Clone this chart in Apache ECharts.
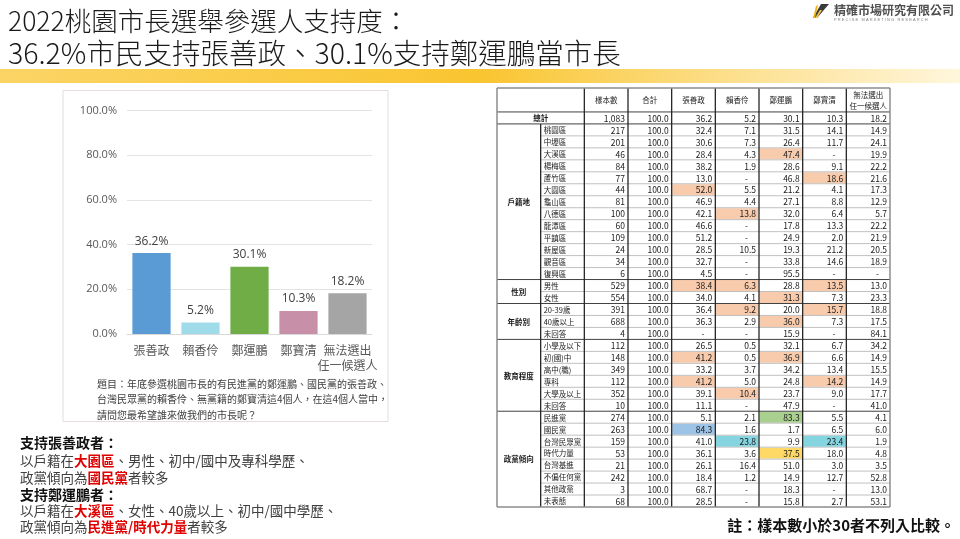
<!DOCTYPE html>
<html><head><meta charset="utf-8">
<script src="https://cdn.jsdelivr.net/npm/echarts@6/dist/echarts.min.js"></script>
<style>html,body{margin:0;padding:0;background:#fff}#c{width:960px;height:539px}</style>
</head><body><div id="c"></div>
<script>
// ---------- chart data ----------
const chartCats = ['張善政', '賴香伶', '鄭運鵬', '鄭寶清', '無法選出\n任一候選人'];
const chartVals = [36.2, 5.2, 30.1, 10.3, 18.2];
const yTickMax = 100, yTickStep = 20;

// ---------- table data ----------
const tableHeaders = ['樣本數', '合計', '張善政', '賴香伶', '鄭運鵬', '鄭寶清', '無法選出\n任一候選人'];
const groupNames = ['戶籍地', '性別', '年齡別', '教育程度', '政黨傾向'];
const groupSizes = [13, 2, 3, 6, 8];
const rowLabels = ['總計', '桃園區', '中壢區', '大溪區', '楊梅區', '蘆竹區', '大園區', '龜山區', '八德區', '龍潭區', '平鎮區', '新屋區', '觀音區', '復興區',
  '男性', '女性', '20-39歲', '40歲以上', '未回答', '小學及以下', '初(國)中', '高中(職)', '專科', '大學及以上', '未回答',
  '民進黨', '國民黨', '台灣民眾黨', '時代力量', '台灣基進', '不偏任何黨', '其他政黨', '未表態'];
const sampleN = [1083, 217, 201, 46, 84, 77, 44, 81, 100, 60, 109, 24, 34, 6, 529, 554, 391, 688, 4, 112, 148, 349, 112, 352, 10, 274, 263, 159, 53, 21, 242, 3, 68];
const totals = rowLabels.map(() => 100.0);
const zhang = [36.2, 32.4, 30.6, 28.4, 38.2, 13.0, 52.0, 46.9, 42.1, 46.6, 51.2, 28.5, 32.7, 4.5, 38.4, 34.0, 36.4, 36.3, null, 26.5, 41.2, 33.2, 41.2, 39.1, 11.1, 5.1, 84.3, 41.0, 36.1, 26.1, 18.4, 68.7, 28.5];
const lai = [5.2, 7.1, 7.3, 4.3, 1.9, null, 5.5, 4.4, 13.8, null, null, 10.5, null, null, 6.3, 4.1, 9.2, 2.9, null, 0.5, 0.5, 3.7, 5.0, 10.4, null, 2.1, 1.6, 23.8, 3.6, 16.4, 1.2, null, null];
const chengYP = [30.1, 31.5, 26.4, 47.4, 28.6, 46.8, 21.2, 27.1, 32.0, 17.8, 24.9, 19.3, 33.8, 95.5, 28.8, 31.3, 20.0, 36.0, 15.9, 32.1, 36.9, 34.2, 24.8, 23.7, 47.9, 83.3, 1.7, 9.9, 37.5, 51.0, 14.9, 18.3, 15.8];
const chengBQ = [10.3, 14.1, 11.7, null, 9.1, 18.6, 4.1, 8.8, 6.4, 13.3, 2.0, 21.2, 14.6, null, 13.5, 7.3, 15.7, 7.3, null, 6.7, 6.6, 13.4, 14.2, 9.0, null, 5.5, 6.5, 23.4, 18.0, 3.0, 12.7, null, 2.7];
const undecided = [18.2, 14.9, 24.1, 19.9, 22.2, 21.6, 17.3, 12.9, 5.7, 22.2, 21.9, 20.5, 18.9, null, 13.0, 23.3, 18.8, 17.5, 84.1, 34.2, 14.9, 15.5, 14.9, 17.7, 41.0, 4.1, 6.0, 1.9, 4.8, 3.5, 52.8, 13.0, 53.1];
// highlighted cells: [row, value column, colour key]
const highlights = [[3, 4, 'o'], [5, 5, 'o'], [6, 2, 'o'], [8, 3, 'o'], [14, 2, 'o'], [14, 3, 'o'], [14, 5, 'o'], [15, 4, 'o'],
  [16, 3, 'o'], [16, 5, 'o'], [17, 4, 'o'], [20, 2, 'o'], [20, 4, 'o'], [22, 2, 'o'], [22, 5, 'o'], [23, 3, 'o'],
  [25, 4, 'g'], [26, 2, 'b'], [27, 3, 'c'], [27, 5, 'c'], [28, 4, 'y']];

// ---------- styles ----------
const CJK = '"Noto Sans CJK TC", "Noto Sans", sans-serif';
const CJK_LIGHT = '"Noto Sans CJK TC Light", "Noto Sans CJK TC", sans-serif';
const hlColors = { o: '#f8cbad', g: '#a9d08e', b: '#9dc3e6', c: '#85d5e0', y: '#ffd966' };
const barColors = ['#5b9bd5', '#9fdbe8', '#70ad47', '#c88fa9', '#a5a5a5'];

// ---------- build table cells ----------
const valueCols = [sampleN, totals, zhang, lai, chengYP, chengBQ, undecided];
const HEAD = 2; // header occupies two row units
const cells = []; // [x0,y0,x1,y1]
const cellMeta = [];
function addCell(x0, y0, x1, y1, meta) { cells.push([x0, y0, x1, y1]); cellMeta.push(meta); }
addCell(0, 0, 2, HEAD, { text: '' });
tableHeaders.forEach((h, j) => addCell(2 + j, 0, 3 + j, HEAD, { text: h, align: 'center', size: 7.5, weight: 'normal' }));
const hlMap = {};
highlights.forEach(h => { hlMap[h[0] + '_' + h[1]] = hlColors[h[2]]; });
function fmt(v, j) {
  if (v === null) return '-';
  if (j === 0) return v.toLocaleString('en-US');
  return v.toFixed(1);
}
for (let r = 0; r < rowLabels.length; r++) {
  const y = HEAD + r;
  if (r === 0) addCell(0, y, 2, y + 1, { text: rowLabels[r], align: 'center', size: 7.5, weight: 'bold' });
  else addCell(1, y, 2, y + 1, { text: rowLabels[r], align: 'left', size: 7.5, weight: 'normal' });
  valueCols.forEach((col, j) => {
    const v = col[r];
    addCell(2 + j, y, 3 + j, y + 1, { text: fmt(v, j), align: v === null ? 'dash' : 'right', size: 8.5, weight: 'normal', fill: hlMap[r + '_' + j] });
  });
}
let gStart = HEAD + 1;
const groupBounds = [HEAD, HEAD + 1];
groupNames.forEach((g, i) => {
  addCell(0, gStart, 1, gStart + groupSizes[i], { text: g, align: 'center', size: 7.5, weight: 'bold' });
  gStart += groupSizes[i];
  groupBounds.push(gStart);
});
const totalUnits = gStart;

// grid lines [x0,y0,x1,y1,kind]  kind 0: thin row line, 1: dark column line, 2: group line, 3: outer
const lines = [];
for (let y = HEAD + 2; y < totalUnits; y++) if (groupBounds.indexOf(y) < 0) lines.push([1, y, 9, y, 0]);
groupBounds.forEach(y => { if (y > 0 && y < totalUnits) lines.push([0, y, 9, y, 2]); });
lines.push([1, HEAD + 1, 1, totalUnits, 1]);
for (let x = 2; x <= 8; x++) lines.push([x, 0, x, totalUnits, 1]);
lines.push([0, 0, 9, 0, 3], [0, totalUnits, 9, totalUnits, 3], [0, 0, 0, totalUnits, 3], [9, 0, 9, totalUnits, 3]);

const chart = echarts.init(document.getElementById('c'), null, { renderer: 'canvas' });

function txt(x, y, text, opt) {
  return Object.assign({ type: 'text', x: x, y: y, style: Object.assign({ text: text, fill: '#404040', font: '14px ' + CJK, align: 'left', verticalAlign: 'middle', textAlign: 'left', textVerticalAlign: 'middle' }, opt || {}) });
}
const richBase = {
  n: { fontSize: 13.5, fontFamily: CJK, fill: '#404040', color: '#404040' },
  r: { fontSize: 13.5, fontFamily: CJK, fontWeight: 'bold', fill: '#e00000', color: '#e00000' }
};
function richTxt(x, y, s) {
  return { type: 'text', x: x, y: y, style: { text: s, rich: richBase, align: 'left', verticalAlign: 'middle', textAlign: 'left', textVerticalAlign: 'middle', font: '13.5px ' + CJK, fill: '#404040' } };
}

const option = {
  animation: false,
  backgroundColor: '#fff',
  grid: [
    { left: 127, right: 588, top: 110.5, bottom: 205 },
    { left: 497, top: 88, width: 393, height: 419 }
  ],
  xAxis: [
    { type: 'category', gridIndex: 0, data: chartCats,
      axisLine: { lineStyle: { color: '#d9d9d9' } }, axisTick: { show: false },
      axisLabel: { color: '#595959', fontSize: 12, fontFamily: CJK, margin: 9, lineHeight: 15, interval: 0 } },
    { type: 'value', gridIndex: 1, min: 0, max: 9, show: false }
  ],
  yAxis: [
    { type: 'value', gridIndex: 0, min: 0, max: yTickMax, interval: yTickStep,
      axisLabel: { color: '#595959', fontSize: 11, fontFamily: 'Open Sans, sans-serif', margin: 10, formatter: v => v.toFixed(1) + '%' },
      splitLine: { lineStyle: { color: '#e3e3e3' } }, axisLine: { show: false }, axisTick: { show: false } },
    { type: 'value', gridIndex: 1, min: 0, max: totalUnits, inverse: true, show: false }
  ],
  series: [
    { type: 'bar', xAxisIndex: 0, yAxisIndex: 0, data: chartVals.map((v, i) => ({ value: v, itemStyle: { color: barColors[i] } })),
      barCategoryGap: '22%',
      label: { show: true, position: 'top', distance: 6, color: '#404040', fontSize: 12, fontFamily: 'Open Sans, sans-serif', formatter: p => p.value.toFixed(1) + '%' } },
    { type: 'custom', xAxisIndex: 1, yAxisIndex: 1, clip: false, silent: true,
      data: cells,
      renderItem: function (params, api) {
        const m = cellMeta[params.dataIndex];
        const p0 = api.coord([api.value(0), api.value(1)]);
        const p1 = api.coord([api.value(2), api.value(3)]);
        const children = [];
        if (m.fill) children.push({ type: 'rect', shape: { x: p0[0] + 0.5, y: p0[1] + 0.5, width: p1[0] - p0[0] - 1, height: p1[1] - p0[1] - 1 }, style: { fill: m.fill } });
        if (m.text) {
          let x, align = 'center';
          if (m.align === 'left') { x = p0[0] + 3; align = 'left'; }
          else if (m.align === 'right') { x = p1[0] - 3; align = 'right'; }
          else if (m.align === 'dash') { x = p1[0] - 11; align = 'right'; }
          else x = (p0[0] + p1[0]) / 2;
          children.push({ type: 'text', style: { x: x, y: (p0[1] + p1[1]) / 2 + 0.5, text: m.text, fill: '#1a1a1a',
            font: (m.weight === 'bold' ? 'bold ' : '') + m.size + 'px ' + CJK, lineHeight: 11,
            align: align, verticalAlign: 'middle', textAlign: align, textVerticalAlign: 'middle' } });
        }
        return { type: 'group', children: children };
      }
    },
    { type: 'custom', xAxisIndex: 1, yAxisIndex: 1, clip: false, silent: true, z: 5,
      data: lines,
      renderItem: function (params, api) {
        const p0 = api.coord([api.value(0), api.value(1)]);
        const p1 = api.coord([api.value(2), api.value(3)]);
        const k = api.value(4);
        const st = [
          { stroke: '#b0b0b0', lineWidth: 0.8 },
          { stroke: '#262626', lineWidth: 1.3 },
          { stroke: '#404040', lineWidth: 1 },
          { stroke: '#8c8c8c', lineWidth: 1.5 }
        ][k];
        return { type: 'line', shape: { x1: p0[0], y1: p0[1], x2: p1[0], y2: p1[1] }, style: st };
      }
    }
  ],
  graphic: [
    // title
    txt(8, 21, '2022桃園市長選舉參選人支持度：', { font: '300 26.5px ' + CJK_LIGHT, fill: '#1a1a1a' }),
    txt(8, 53, '36.2%市民支持張善政、30.1%支持鄭運鵬當市長', { font: '300 28.5px ' + CJK_LIGHT, fill: '#1a1a1a' }),
    // yellow band
    { type: 'rect', shape: { x: 0, y: 69, width: 960, height: 14 }, style: { fill: new echarts.graphic.LinearGradient(0, 0, 1, 0, [
      { offset: 0, color: '#fbd466' }, { offset: 0.5, color: '#f9c530' }, { offset: 0.8, color: '#fde39a' }, { offset: 1, color: '#fff6dc' }]) }, z: -1 },
    // logo
    { type: 'polygon', shape: { points: [[821, 4], [829, 4], [817, 18], [813, 18]] }, style: { fill: '#3a3a3a' } },
    { type: 'polygon', shape: { points: [[813, 18], [816, 6], [818, 5], [815, 18]] }, style: { fill: '#f2b21b' } },
    { type: 'polygon', shape: { points: [[815, 18], [820, 10], [822, 10], [817, 18]] }, style: { fill: '#f7c948' } },
    txt(834, 10, '精確市場研究有限公司', { font: 'bold 12px ' + CJK, fill: '#505050' }),
    txt(834, 20, 'P R E C I S E   M A R K E T I N G   R E S E A R C H', { font: '4px "Liberation Sans", sans-serif', fill: '#808080' }),
    // chart frame
    { type: 'rect', shape: { x: 63, y: 90.5, width: 325, height: 331 }, style: { fill: 'none', stroke: '#e6dcdc', lineWidth: 1 }, z: -1 },
    { type: 'text', x: 97, y: 376, style: { text: '題目：年底參選桃園市長的有民進黨的鄭運鵬、國民黨的張善政、\n台灣民眾黨的賴香伶、無黨籍的鄭寶清這4個人，在這4個人當中，\n請問您最希望誰來做我們的市長呢？',
      font: '10px ' + CJK, fill: '#404040', lineHeight: 15.5, align: 'left', verticalAlign: 'top', textAlign: 'left', textVerticalAlign: 'top' } },
    // summary text
    txt(20, 443, '支持張善政者：', { font: 'bold 14px ' + CJK, fill: '#111' }),
    richTxt(20, 461, '{n|以戶籍在}{r|大園區}{n|、男性、初中/國中及專科學歷、}'),
    richTxt(20, 477.5, '{n|政黨傾向為}{r|國民黨}{n|者較多}'),
    txt(20, 495, '支持鄭運鵬者：', { font: 'bold 14px ' + CJK, fill: '#111' }),
    richTxt(20, 510.5, '{n|以戶籍在}{r|大溪區}{n|、女性、40歲以上、初中/國中學歷、}'),
    richTxt(20, 526.5, '{n|政黨傾向為}{r|民進黨/時代力量}{n|者較多}'),
    // footnote
    txt(955, 525, '註：樣本數小於30者不列入比較。', { font: 'bold 15px ' + CJK, fill: '#111', align: 'right', textAlign: 'right' })
  ]
};
chart.setOption(option);
</script>
</body></html>
